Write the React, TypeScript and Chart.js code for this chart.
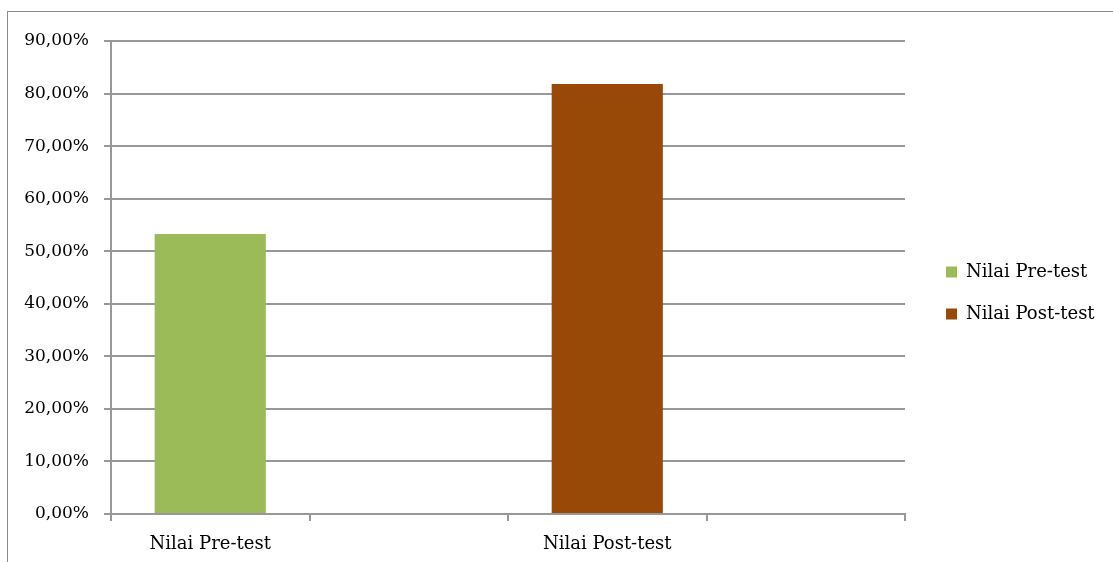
import React, { useEffect, useRef } from "react";
import { Chart, registerables } from "chart.js";

Chart.register(...registerables);

const categories: string[] = ["Nilai Pre-test", "", "Nilai Post-test", ""];
const seriesNames: string[] = ["Nilai Pre-test", "Nilai Post-test"];
const preTestValues: (number | null)[] = [53.27, null, null, null];
const postTestValues: (number | null)[] = [null, null, 81.8, null];
const seriesColors: string[] = ["#9BBB59", "#984807"];
const yTicksMin = 0;
const yTicksMax = 90;
const yTicksStep = 10;

const FONT_FAMILY = '"DejaVu Serif", serif';
const Y_FONT_SIZE = 17;
const FONT_SIZE = 18;
const GRID = "#989898";

export default function App() {
  const canvasRef = useRef<HTMLCanvasElement | null>(null);

  useEffect(() => {
    const canvas = canvasRef.current;
    if (!canvas) return;
    const mctx = canvas.getContext("2d")!;
    mctx.font = `${FONT_SIZE}px ${FONT_FAMILY}`;
    const maxText = Math.max(...seriesNames.map((s) => mctx.measureText(s).width));
    const legendPad = 24;
    const boxW = 11;
    const legendW = legendPad + boxW + FONT_SIZE / 2 + maxText + 10;
    const dummyW = 17;
    const rightPad = Math.max(0, 1113 - 905 - dummyW - legendW);

    const chart = new Chart(canvas, {
      type: "bar",
      data: {
        labels: categories,
        datasets: [
          {
            label: seriesNames[0],
            data: preTestValues,
            backgroundColor: seriesColors[0],
            borderWidth: 0,
          },
          {
            label: seriesNames[1],
            data: postTestValues,
            backgroundColor: seriesColors[1],
            borderWidth: 0,
          },
        ],
      },
      options: {
        responsive: false,
        animation: false,
        layout: { padding: { top: 41, left: 0, right: rightPad, bottom: 0 } },
        datasets: {
          bar: { grouped: false, categoryPercentage: 1, barPercentage: 0.56 },
        },
        plugins: {
          tooltip: { enabled: false },
          legend: {
            position: "right",
            align: "center",
            fullSize: false,
            title: {
              display: true,
              text: " ",
              padding: 0,
              font: { family: FONT_FAMILY, size: 10, lineHeight: 3.1 },
            },
            labels: {
              boxWidth: boxW,
              boxHeight: boxW,
              padding: legendPad,
              color: "#000",
              font: { family: FONT_FAMILY, size: FONT_SIZE },
            },
          },
        },
        scales: {
          x: {
            offset: true,
            grid: {
              display: true,
              offset: true,
              drawOnChartArea: false,
              drawTicks: true,
              tickLength: 7,
              color: GRID,
              lineWidth: 2,
            },
            border: { display: true, color: GRID, width: 2 },
            ticks: {
              color: "#000",
              font: { family: FONT_FAMILY, size: FONT_SIZE },
              padding: 13,
              maxRotation: 0,
              autoSkip: false,
            },
            afterFit: (s: any) => {
              s.height = 48;
            },
          },
          y: {
            min: yTicksMin,
            max: yTicksMax,
            grid: {
              color: GRID,
              lineWidth: 2,
              tickLength: 7,
              drawTicks: true,
            },
            border: { display: true, color: GRID, width: 2 },
            ticks: {
              stepSize: yTicksStep,
              color: "#000",
              font: { family: FONT_FAMILY, size: Y_FONT_SIZE },
              padding: 15,
              callback: (v: any) => Number(v).toFixed(2).replace(".", ",") + "%",
            },
            afterFit: (s: any) => {
              s.width = 111;
            },
          },
          yRight: {
            type: "linear",
            position: "right",
            display: true,
            grid: { display: false, drawTicks: false },
            border: { display: false },
            ticks: { display: false },
            afterFit: (s: any) => {
              s.width = dummyW;
            },
          },
        },
      },
    });
    return () => chart.destroy();
  }, []);

  return (
    <div
      style={{
        position: "fixed",
        left: 0,
        top: 0,
        width: 1113,
        height: 562,
        overflow: "hidden",
        background: "#fff",
      }}
    >
      <div
        style={{
          position: "absolute",
          left: 7,
          top: 11,
          width: 1200,
          height: 700,
          border: "1px solid #8a8a8a",
          boxSizing: "border-box",
        }}
      />
      <canvas
        ref={canvasRef}
        width={1113}
        height={562}
        style={{ position: "absolute", left: 0, top: 0, width: 1113, height: 562 }}
      />
    </div>
  );
}
